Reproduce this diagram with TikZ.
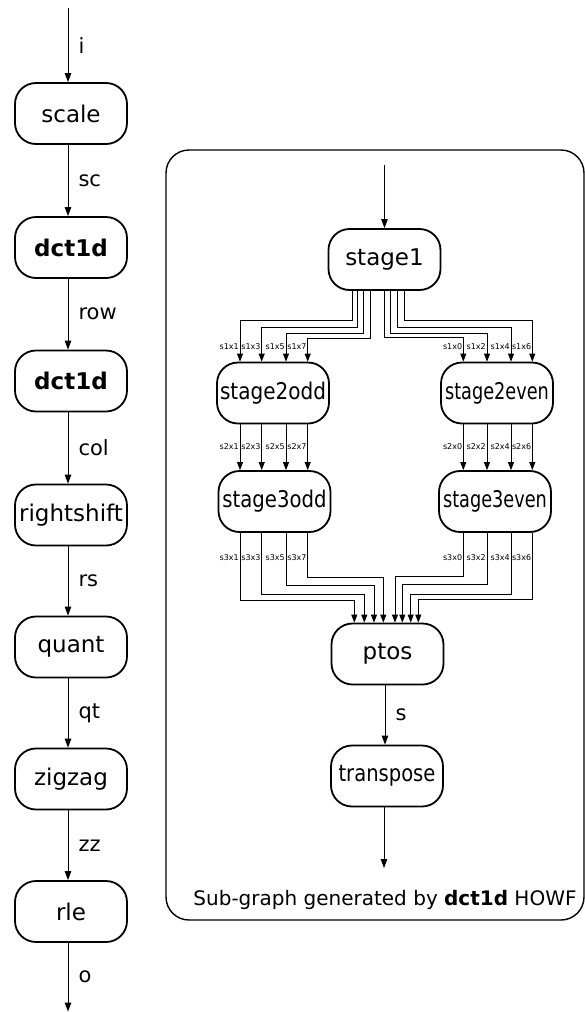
\documentclass[tikz,border=0pt]{standalone}
\usepackage{graphicx}
\usepackage{fontspec}
\setmainfont{DejaVu Sans}
\usetikzlibrary{arrows.meta,calc}
\begin{document}
\begin{tikzpicture}[x=1pt,y=-1pt,
  box/.style={draw, line width=1.8pt, rounded corners=21pt, minimum width=112pt, minimum height=61pt, inner sep=0pt, font=\fontsize{23}{27}\selectfont},
  arr/.style={line width=1pt, -{Triangle[length=9pt,width=6.5pt]}},
  wire/.style={line width=0.9pt, -{Triangle[length=8pt,width=6pt]}},
  elab/.style={font=\fontsize{21}{25}\selectfont, inner sep=0pt, anchor=west, xshift=10pt},
  slab/.style={font=\fontsize{8}{9}\selectfont, inner sep=0pt, anchor=east},
  captext/.style={font=\fontsize{20}{24}\selectfont, inner sep=0pt}
]
\useasboundingbox (0,0) rectangle (585,1012);

% left column
\node[box] (scale) at (71,113.5) {scale};
\node[box] (dcta) at (71,247.5) {\textbf{dct1d}};
\node[box] (dctb) at (71,381) {\textbf{dct1d}};
\node[box] (rsh) at (71,515) {rightshift};
\node[box] (quant) at (71,647) {quant};
\node[box] (zig) at (71,779) {zigzag};
\node[box] (rle) at (71,911.5) {rle};
\coordinate (in) at (68,8);
\coordinate (out) at (68,1011.5);

\draw[arr] (in) -- node[elab]{i} ([xshift=-3pt]scale.north);
\draw[arr] ([xshift=-3pt]scale.south) -- node[elab]{sc} ([xshift=-3pt]dcta.north);
\draw[arr] ([xshift=-3pt]dcta.south) -- node[elab]{row} ([xshift=-3pt]dctb.north);
\draw[arr] ([xshift=-3pt]dctb.south) -- node[elab]{col} ([xshift=-3pt]rsh.north);
\draw[arr] ([xshift=-3pt]rsh.south) -- node[elab]{rs} ([xshift=-3pt]quant.north);
\draw[arr] ([xshift=-3pt]quant.south) -- node[elab]{qt} ([xshift=-3pt]zig.north);
\draw[arr] ([xshift=-3pt]zig.south) -- node[elab]{zz} ([xshift=-3pt]rle.north);
\draw[arr] ([xshift=-3pt]rle.south) -- node[elab]{o} (out);

% sub-graph frame
\draw[line width=1.4pt, rounded corners=23pt] (166,150) rectangle (584,920);
\node[captext] (caption) at (385,900) {Sub-graph generated by \textbf{dct1d} HOWF};

% right nodes
\node[box] (s1) at (384.5,259.5) {stage1};
\node[box] (s2o) at (273,393) {\scalebox{0.87}[1]{stage2odd}};
\node[box] (s2e) at (497,393) {\scalebox{0.77}[1]{stage2even}};
\node[box] (s3o) at (274.5,501.5) {\scalebox{0.855}[1]{stage3odd}};
\node[box] (s3e) at (495,501.5) {\scalebox{0.77}[1]{stage3even}};
\node[box] (ptos) at (387.5,654) {ptos};
\node[box] (tr) at (387,776) {\scalebox{0.85}[1]{transpose}};
\coordinate (subin) at (384.5,165);
\coordinate (subout) at (384,868);

\draw[arr] (subin) -- (s1.north);
\draw[arr] ([xshift=-2.5pt]ptos.south) -- node[elab]{s} ([xshift=-2pt]tr.north);
\draw[arr] ([xshift=-3pt]tr.south) -- (subout);

% odd wires
\foreach \n/\sx/\lv/\dx/\pl/\px in {1/352.7/320/240/600/354.3, 3/357.7/327.7/261.7/594.3/364.3, 5/363.3/333.3/286/585/374, 7/370/338.3/307.7/577.3/383.3} {
  \coordinate (oa\n) at (\sx,0);
  \coordinate (ol\n) at (\dx,\lv);
  \coordinate (op\n) at (\px,\pl);
  \draw[wire] (s1.south -| oa\n) |- (ol\n) -- (s2o.north -| ol\n);
  \draw[wire] (s2o.south -| ol\n) -- (s3o.north -| ol\n);
  \draw[wire] (s3o.south -| ol\n) |- (op\n) -- (ptos.north -| op\n);
  \node[slab] (la\n) at (\dx-1,346.7) {s1x\n};
  \node[slab] (lb\n) at (\dx-1,446.7) {s2x\n};
  \node[slab] (lc\n) at (\dx-1,558) {s3x\n};
}
% even wires
\foreach \n/\sx/\lv/\dx/\pl/\px in {0/384/337.7/463.3/576/395, 2/390.7/333.3/487/584/402.3, 4/397.3/327.7/511/594/410.7, 6/404/320/532.3/599.3/418.3} {
  \coordinate (ea\n) at (\sx,0);
  \coordinate (el\n) at (\dx,\lv);
  \coordinate (ep\n) at (\px,\pl);
  \draw[wire] (s1.south -| ea\n) |- (el\n) -- (s2e.north -| el\n);
  \draw[wire] (s2e.south -| el\n) -- (s3e.north -| el\n);
  \draw[wire] (s3e.south -| el\n) |- (ep\n) -- (ptos.north -| ep\n);
  \node[slab] (lx\n) at (\dx-1,346.7) {s1x\n};
  \node[slab] (ly\n) at (\dx-1,446.7) {s2x\n};
  \node[slab] (lz\n) at (\dx-1,558) {s3x\n};
}
\end{tikzpicture}
\end{document}
